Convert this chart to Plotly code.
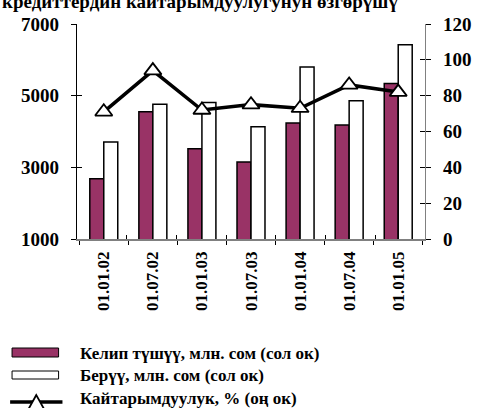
import plotly.graph_objects as go

# Data
dates = ["01.01.02", "01.07.02", "01.01.03", "01.07.03", "01.01.04", "01.07.04", "01.01.05"]
inflow = [2680, 4550, 3520, 3150, 4240, 4180, 5340]      # Келип түшүү, млн. сом
outflow = [3710, 4760, 4810, 4130, 5800, 4860, 6420]     # Берүү, млн. сом
return_rate = [71, 94, 72, 75, 73, 86, 82]               # Кайтарымдуулук, %

left_ticks = [1000, 3000, 5000, 7000]
right_ticks = [0, 20, 40, 60, 80, 100, 120]

names = [
    "Келип түшүү, млн. сом (сол ок)",
    "Берүү, млн. сом (сол ок)",
    "Кайтарымдуулук, % (оң ок)",
]

PURPLE = "#993366"
FONT = "Liberation Serif"

W, H = 483, 408
L, R, T, B = 77, 436, 24, 239


def px(x):
    return (x - L) / (R - L)


def py(y):
    return (B - y) / (B - T)


def bold(size):
    return dict(family=FONT, size=size, color="black", weight="bold")


fig = go.Figure()
fig.add_trace(go.Bar(x=dates, y=inflow, name=names[0], marker=dict(color=PURPLE, line=dict(color="black", width=1.5)),
                     showlegend=False))
fig.add_trace(go.Bar(x=dates, y=outflow, name=names[1], marker=dict(color="white", line=dict(color="black", width=1.5)),
                     showlegend=False))
fig.add_trace(go.Scatter(x=dates, y=return_rate, name=names[2], yaxis="y2", mode="lines+markers",
                         line=dict(color="black", width=3.5),
                         marker=dict(symbol="triangle-up", size=15, color="white", line=dict(color="black", width=1.8)),
                         showlegend=False))

fig.update_layout(
    width=W, height=H,
    margin=dict(l=L, r=W - R, t=T, b=H - B),
    paper_bgcolor="white", plot_bgcolor="white",
    barmode="group", bargap=0.43, bargroupgap=0,
    xaxis=dict(type="category", tickangle=-90, tickfont=bold(17),
               showline=True, linecolor="#808080", linewidth=1.5, ticks="outside", ticklen=4,
               tickcolor="black", tickson="boundaries", showgrid=False, ticklabelstandoff=4),
    yaxis=dict(range=[1000, 7000], tickvals=left_ticks, tickfont=bold(19), showline=True, linecolor="black",
               linewidth=1.2, ticks="outside", ticklen=5, tickcolor="black", showgrid=False, zeroline=False,
               ticklabelstandoff=8),
    yaxis2=dict(range=[0, 120], tickvals=right_ticks, overlaying="y", side="right", tickfont=bold(19),
                showline=True, linecolor="#808080", linewidth=1.2, ticks="outside", ticklen=5,
                tickcolor="black", showgrid=False, zeroline=False, ticklabelstandoff=8),
    # inner halves of the crossing tick marks
    yaxis3=dict(range=[1000, 7000], tickvals=left_ticks, overlaying="y", side="left", showticklabels=False,
                ticks="inside", ticklen=5, tickcolor="black", showgrid=False, zeroline=False, showline=False),
    yaxis4=dict(range=[0, 120], tickvals=right_ticks, overlaying="y", side="right", showticklabels=False,
                ticks="inside", ticklen=5, tickcolor="black", showgrid=False, zeroline=False, showline=False),
    xaxis2=dict(range=[-0.5, len(dates) - 0.5], tickvals=[i - 0.5 for i in range(len(dates) + 1)],
                overlaying="x", side="bottom", showticklabels=False, ticks="inside", ticklen=4,
                tickcolor="black", showgrid=False, zeroline=False, showline=False),
)

# empty traces so the overlay axes render
fig.add_trace(go.Scatter(x=[dates[0]], y=[1000], yaxis="y3", mode="none", showlegend=False, hoverinfo="skip"))
fig.add_trace(go.Scatter(x=[dates[0]], y=[0], yaxis="y4", mode="none", showlegend=False, hoverinfo="skip"))
fig.add_trace(go.Scatter(x=[0], y=[1000], xaxis="x2", mode="none", showlegend=False, hoverinfo="skip"))

# Title (top line runs off the page)
fig.add_annotation(text="кредиттердин кайтарымдуулугунун өзгөрүшү", xref="paper", yref="paper",
                   x=px(-2), y=1, xanchor="left", yanchor="bottom", yshift=10, showarrow=False,
                   font=bold(19))

# Legend drawn below the chart
rows = [353, 375, 398]
fig.add_shape(type="rect", xref="paper", yref="paper", x0=px(10), x1=px(58), y0=py(348), y1=py(357),
              fillcolor=PURPLE, line=dict(color="black", width=1))
fig.add_shape(type="rect", xref="paper", yref="paper", x0=px(10), x1=px(58), y0=py(371), y1=py(379),
              fillcolor="white", line=dict(color="black", width=1))
fig.add_shape(type="line", xref="paper", yref="paper", x0=px(8), x1=px(62), y0=py(402), y1=py(402),
              line=dict(color="black", width=3.5))
tri = [(35, 395), (27, 409), (43, 409)]
path = "M " + " L ".join(f"{px(a):.5f},{py(b):.5f}" for a, b in tri) + " Z"
fig.add_shape(type="path", xref="paper", yref="paper", path=path, fillcolor="white",
              line=dict(color="black", width=1.8))
for name, y in zip(names, rows):
    fig.add_annotation(text=name, xref="paper", yref="paper", x=px(78), y=py(y), xanchor="left",
                       yanchor="middle", showarrow=False, font=bold(17))

fig.write_html("out.html")
